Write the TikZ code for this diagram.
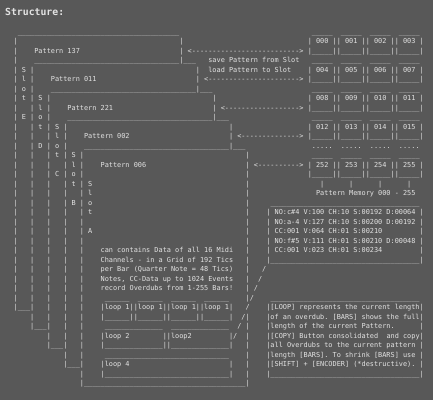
\documentclass[tikz,border=0pt]{standalone}
\usepackage{fontspec}
\setmonofont{DejaVu Sans Mono}
\usepackage{tikz}
\definecolor{paper}{RGB}{88,88,88}
\definecolor{ink}{RGB}{226,226,226}
\newcommand\asciifont{\ttfamily\fontsize{6.881}{9.5}\selectfont\frenchspacing}
\newcommand\headfont{\ttfamily\bfseries\fontsize{9.8}{12}\selectfont}

\begin{document}
\catcode`\_=12
\begin{tikzpicture}[x=4.143pt,y=-9.5pt,
  ch/.style={anchor=base west,inner sep=0pt,outer sep=0pt,xshift=-2.07pt,yshift=-1.6pt,font=\asciifont,text=ink}]
\fill[paper] (-15.7pt,32.7pt) rectangle (417.3pt,-367.3pt);
\useasboundingbox (-15.7pt,32.7pt) rectangle (417.3pt,-367.3pt);
\node[anchor=base west,inner sep=0pt,font=\headfont,text=ink] (title) at (-10.7pt,17.7pt) {Structure:};
% stacked pattern slots
\node[ch] (top0) at (1,0) {_______________________________________};
\foreach \k in {1,...,4}
  {\node[ch] (top\k) at (4*\k+1,3*\k) {___________________________________};
   \node[ch] (corner\k) at (4*\k+36,3*\k) {|___};}
\foreach \k/\p in {0/137,1/011,2/221,3/002,4/006}
  \node[ch] (pat\p) at (4*\k+5,3*\k+2) {Pattern \p};
\foreach \k in {0,...,3}
  \foreach \y in {1,2}
    \node[ch] (rbar\k-\y) at (40+4*\k,3*\k+\y) {|};
\foreach \a/\b in {13/28,30/36}
  \foreach \y in {\a,...,\b}
    \node[ch] (rbar4-\y) at (56,\y) {|};
\foreach \col/\a/\b in {0/1/28,4/4/30,8/7/32,12/10/34,16/13/36}
  \foreach \y in {\a,...,\b}
    \node[ch] (lbar\col-\y) at (\col,\y) {|};
\foreach \col/\y in {0/29,4/31,8/33,12/35}
  \node[ch] (foot\col) at (\col,\y) {|___};
\node[ch] (foot16) at (16,37) {|_______________________________________|};
\foreach \col/\row/\id in {2/4/E,6/7/D,10/10/C,14/13/B,18/16/A}
  {\node[ch] (slotS\id) at (\col,\row) {S};
   \node[ch] (slotl\id) at (\col,\row+1) {l};
   \node[ch] (sloto\id) at (\col,\row+2) {o};
   \node[ch] (slott\id) at (\col,\row+3) {t};
   \node[ch] (slot\id) at (\col,\row+5) {\id};}
% save / load arrows
\node[ch] (arr0) at (42,2) {<-------------------------->};
\node[ch] (arr1) at (46,5) {<---------------------->};
\node[ch] (arr2) at (50,8) {<------------------>};
\node[ch] (arr3) at (54,11) {<-------------->};
\node[ch] (arr4) at (58,14) {<---------->};
\node[ch] (save) at (47,3) {save Pattern from Slot};
\node[ch] (load) at (47,4) {load Pattern to Slot};
% pattern memory
\foreach \lid/\ma/\mb/\mc/\md in {0/000/001/002/003,3/004/005/006/007,6/008/009/010/011,9/012/013/014/015,13/252/253/254/255}
  {\foreach \x in {72,79,86,93}
     \node[ch] (lid\lid-\x) at (\x,\lid) {_____};
   \node[ch] (mem\ma) at (71,\lid+1) {| \ma{} || \mb{} || \mc{} || \md{} |};
   \node[ch] (base\ma) at (71,\lid+2) {|_____||_____||_____||_____|};}
\foreach \x in {72,79,86,93}
  \node[ch] (dots\x) at (\x,12) {.....};
\foreach \x in {74,81,88,95}
  \node[ch] (stem\x) at (\x,16) {|};
\node[ch] (memlabel) at (73,17) {Pattern Memory 000 - 255};
% midi events
\node[ch] (evtop) at (62,18) {____________________________________};
\node[ch] (ev1) at (61,19) {| NO:c\#4 V:100 CH:10 S:00192 D:00064 |};
\node[ch] (ev2) at (61,20) {| NO:a-4 V:127 CH:10 S:00200 D:00192 |};
\node[ch] (ev3) at (61,21) {| CC:001 V:064 CH:01 S:00210};
\node[ch] (ev3r) at (98,21) {|};
\node[ch] (ev4) at (61,22) {| NO:f\#5 V:111 CH:01 S:00210 D:00048 |};
\node[ch] (ev5) at (61,23) {| CC:001 V:023 CH:01 S:00234};
\node[ch] (ev5r) at (98,23) {|};
\node[ch] (evbot) at (61,24) {|____________________________________|};
\foreach \col/\y in {60/25,59/26,58/27,57/28,56/29,55/30,54/31,53/32}
  \node[ch] (slash\y) at (\col,\y) {/};
% pattern 006 contents
\node[ch] (txt1) at (21,23) {can contains Data of all 16 Midi};
\node[ch] (txt2) at (21,24) {Channels - in a Grid of 192 Tics};
\node[ch] (txt3) at (21,25) {per Bar (Quarter Note = 48 Tics)};
\node[ch] (txt4) at (21,26) {Notes, CC-Data up to 1024 Events};
\node[ch] (txt5) at (21,27) {record Overdubs from 1-255 Bars!};
\foreach \x in {22,30,38,46}
  \node[ch] (lp1top\x) at (\x,28) {______};
\node[ch] (lp1) at (21,29) {|loop 1||loop 1||loop 1||loop 1|};
\node[ch] (lp1bot) at (21,30) {|______||______||______||______|};
\foreach \x in {22,38}
  \node[ch] (lp2top\x) at (\x,31) {______________};
\node[ch] (lp2a) at (21,32) {|loop 2};
\node[ch] (lp2b) at (36,32) {||loop2};
\node[ch] (lp2c) at (52,32) {|};
\node[ch] (lp2bot) at (21,33) {|______________||______________|};
\node[ch] (lp4top) at (22,34) {______________________________};
\node[ch] (lp4) at (21,35) {|loop 4};
\node[ch] (lp4r) at (52,35) {|};
\node[ch] (lp4bot) at (21,36) {|______________________________|};
% loop notes
\node[ch] (infotop) at (62,28) {____________________________________};
\node[ch] (info1) at (61,29) {|[LOOP] represents the current length|};
\node[ch] (info2) at (61,30) {|of an overdub. [BARS] shows the full|};
\node[ch] (info3) at (61,31) {|length of the current Pattern.};
\node[ch] (info3r) at (98,31) {|};
\node[ch] (info4) at (61,32) {|[COPY] Button consolidated};
\node[ch] (info4r) at (90,32) {and copy|};
\node[ch] (info5) at (61,33) {|all Overdubs to the current pattern |};
\node[ch] (info6) at (61,34) {|length [BARS]. To shrink [BARS] use |};
\node[ch] (info7) at (61,35) {|[SHIFT] + [ENCODER] (*destructive). |};
\node[ch] (infobot) at (61,36) {|____________________________________|};
\end{tikzpicture}
\end{document}
